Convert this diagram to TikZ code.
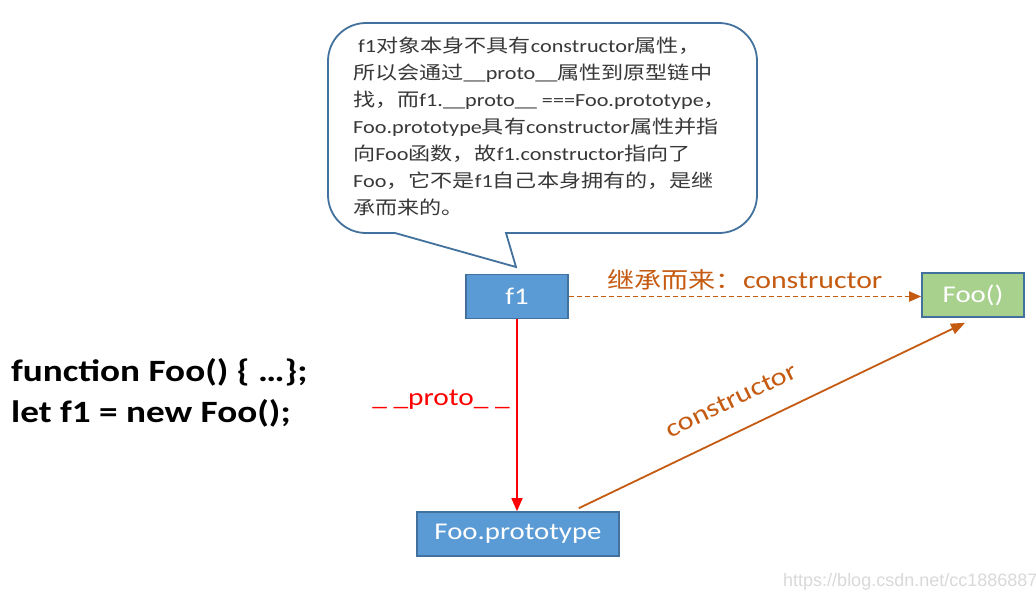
\documentclass[tikz,border=0pt]{standalone}
\usepackage{fontspec}
\setmainfont{Carlito}[FakeStretch=1.2]
\newfontfamily\zhfont[Scale=0.91,FakeStretch=1.2]{Noto Sans CJK SC}
\newfontfamily\notezhfont[Scale=0.995,FakeStretch=1.2]{Noto Sans CJK SC}
\newfontfamily\markfont{Liberation Sans}
\newcommand\zh[1]{{\zhfont #1}}
\newcommand\zhn[1]{{\notezhfont #1}}
\usetikzlibrary{arrows.meta,calc,positioning}
\definecolor{BoxBlue}{HTML}{5B9BD5}
\definecolor{BoxEdge}{HTML}{41719C}
\definecolor{BoxGreen}{HTML}{A9D18E}
\definecolor{CtorOrange}{HTML}{C55A11}
\definecolor{ProtoRed}{HTML}{FF0000}
\definecolor{NoteInk}{HTML}{383838}
\tikzset{
  objbox/.style={draw=BoxEdge, line width=1.6pt, fill=BoxBlue, text=white,
    minimum height=44pt, inner sep=0pt, font=\fontsize{24}{26}\selectfont},
  funcbox/.style={objbox, fill=BoxGreen},
  callout/.style={draw=BoxEdge, line width=1.8pt, fill=white},
  protolink/.style={-{Triangle[length=13pt,width=11pt]}, draw=ProtoRed, line width=1.5pt},
  inherited/.style={-{Triangle[length=12pt,width=10pt]}, draw=CtorOrange, line width=1.8pt, dash pattern=on 5pt off 3pt},
  ctorlink/.style={-{Triangle[length=14pt,width=11pt]}, draw=CtorOrange, line width=1.8pt},
}

\begin{document}
\begin{tikzpicture}[x=1pt,y=-1pt]
  \fill[white] (0,0) rectangle (1036,598);
  \useasboundingbox (0,0) rectangle (1036,598);

  % speech bubble
  \draw[callout] (395,233) -- (516,267) -- (506,233)
    [rounded corners=38] -- (757,233) -- (757,23) -- (328,23) -- (328,233)
    [sharp corners] -- cycle;
  \node[anchor=north west, inner sep=0pt, align=left, text=NoteInk,
    font=\fontsize{18.5}{27}\selectfont] (note) at (353,37) {%
    \ f1\zhn{对象本身不具有}constructor\zhn{属性，}\\
    \zhn{所以会通过}\_\_proto\_\_\zhn{属性到原型链中}\\
    \zhn{找，而}f1.\_\_proto\_\_ ===Foo.prototype\zhn{，}\\
    Foo.prototype\zhn{具有}constructor\zhn{属性并指}\\
    \zhn{向}Foo\zhn{函数，故}f1.constructor\zhn{指向了}\\
    Foo\zhn{，它不是}f1\zhn{自己本身拥有的，是继}\\
    \zhn{承而来的。}};

  % objects
  \node[objbox, minimum width=102pt] (f1) at (517,296.5) {f1};
  \node[funcbox, minimum width=102pt] (foo) at (973,295) {Foo()};
  \node[objbox, minimum width=202pt] (proto) at (518,534) {Foo.prototype};

  % code
  \node[anchor=west, inner sep=0pt, align=left, font=\bfseries\fontsize{31}{41}\selectfont]
    (code) at (11,393) {function Foo() \{ …\};\\let f1 = new Foo();};

  % links
  \draw[protolink] (f1.south) -- (f1.south |- proto.north)
    node[pos=0.42, left=3pt, text=ProtoRed, font=\fontsize{24.5}{26}\selectfont] (protolabel) {\_ \_proto\_ \_};
  \draw[inherited] (f1.east) -- (foo.west |- f1.east)
    node[midway, above=2pt, text=CtorOrange, font=\fontsize{24.8}{27}\selectfont] (inhlabel) {\zh{继承而来：}constructor};
  \coordinate (ctorA) at ([xshift=-41pt,yshift=3pt]proto.north east);
  \coordinate (ctorB) at ([xshift=-8pt,yshift=-5pt]foo.south);
  \draw[ctorlink] (ctorA) -- (ctorB)
    node[pos=0.43, sloped, above=19pt, text=CtorOrange, font=\fontsize{25.4}{27}\selectfont] (ctorlabel) {constructor};

  % watermark
  \node[anchor=west, inner sep=0pt, text=black!15, font=\markfont\fontsize{18}{19}\selectfont]
    (mark) at (783,582) {https://blog.csdn.net/cc18868876};
\end{tikzpicture}
\end{document}
